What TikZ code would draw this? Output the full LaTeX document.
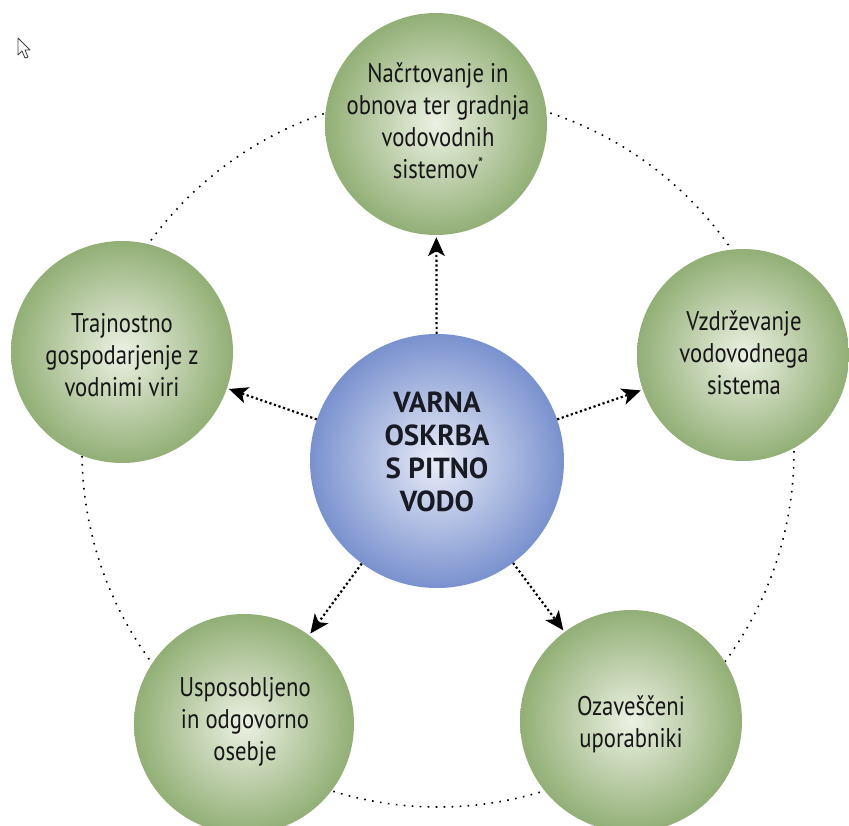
\documentclass[tikz,border=0pt]{standalone}
\usepackage{fontspec}
\setmainfont[FakeStretch=0.84]{PT Sans}
\newfontfamily\centerfont{PT Sans}
\usetikzlibrary{arrows.meta}

\definecolor{greenin}{RGB}{236,241,227}
\definecolor{greenout}{RGB}{146,175,118}
\definecolor{bluein}{RGB}{234,237,248}
\definecolor{blueout}{RGB}{121,145,206}
\definecolor{txt}{RGB}{22,22,22}
\definecolor{ctxt}{RGB}{24,26,36}

\tikzset{
  ballnode/.style={circle, inner sep=0pt, minimum size=#1},
  greenball/.style={ballnode=#1, inner color=greenin, outer color=greenout},
  blueball/.style={ballnode=#1, inner color=bluein, outer color=blueout},
  lbl/.style={align=center, text=txt, inner sep=0pt, font=\fontsize{27}{32}\selectfont},
  clbl/.style={align=center, text=ctxt, inner sep=0pt, font=\centerfont\bfseries\fontsize{29}{33}\selectfont},
  conn/.style={line width=2.2pt, dash pattern=on 2.2pt off 2.6pt,
    -{Stealth[length=19pt,width=17pt,inset=5pt,line width=0pt]}, shorten >=2pt},
  ring/.style={line width=1.6pt, dash pattern=on 1.6pt off 6.4pt},
  cursor/.style={draw=black!75, line width=0.8pt, fill=white, line join=round}
}

\begin{document}
\begin{tikzpicture}[x=1pt,y=-1pt]
\useasboundingbox (0,0) rectangle (849,825);
\fill[white] (0,0) rectangle (849,825);

% mouse cursor
\draw[cursor] (18,38) -- (18,55) -- (22,51) -- (25,58) -- (28,57) -- (25,50) -- (30,50) -- cycle;

% outer dotted ring
\coordinate (ringc) at (438,451);
\draw[ring] (ringc) circle[radius=356];

% circles
\node[greenball=222pt] (T)  at (436,124) {};
\node[greenball=222pt] (L)  at (122,352) {};
\node[greenball=212pt] (R)  at (743,355) {};
\node[greenball=220pt] (BL) at (244,724) {};
\node[greenball=222pt] (BR) at (631,721) {};
\node[blueball=254pt]  (C)  at (437,461) {};

% connectors
\draw[conn] (C) -- (T);
\draw[conn] (C) -- (L);
\draw[conn] (C) -- (R);
\draw[conn] (C) -- (BL);
\draw[conn] (C) -- (BR);

% labels
\node[lbl] (tT) at (438,121) {Načrtovanje in\\obnova ter gradnja\\vodovodnih\\sistemov\raisebox{0.7ex}{\fontsize{17}{17}\selectfont *}};
\node[lbl] (tL) at (122,355) {Trajnostno\\gospodarjenje z\\vodnimi viri};
\node[lbl] (tR) at (744,353) {Vzdrževanje\\vodovodnega\\sistema};
\node[lbl] (tBL) at (245,722) {Usposobljeno\\in odgovorno\\osebje};
\node[lbl] (tBR) at (631,724) {Ozaveščeni\\uporabniki};
\node[clbl] (tC) at (437,452) {VARNA\\OSKRBA\\S PITNO\\VODO};
\end{tikzpicture}
\end{document}
